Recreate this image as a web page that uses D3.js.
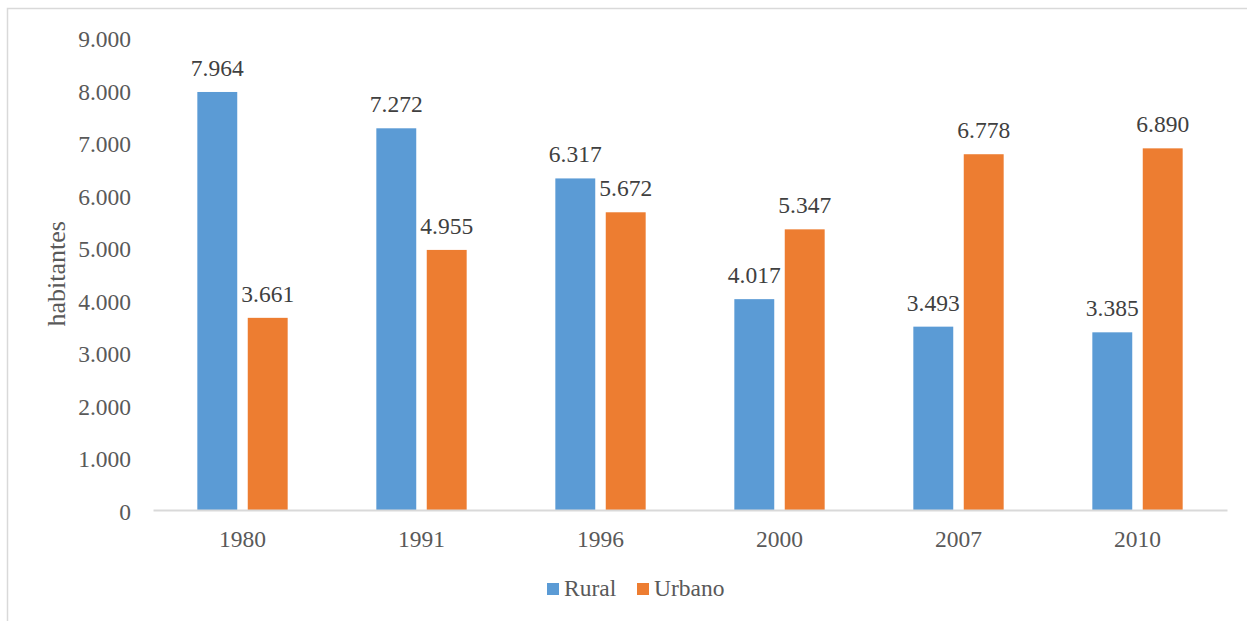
<!DOCTYPE html>
<html>
<head>
<meta charset="utf-8">
<script src="https://cdn.jsdelivr.net/npm/d3@7"></script>
<style>
  html, body { margin: 0; padding: 0; background: #fff; }
  svg { display: block; }
</style>
</head>
<body>
<svg id="chart" width="1247" height="621" style="font-family:'Liberation Serif','Times New Roman',serif"></svg>
<script>
// Population by area (habitantes)
const years = ["1980", "1991", "1996", "2000", "2007", "2010"];
const rural = [7964, 7272, 6317, 4017, 3493, 3385];
const urbano = [3661, 4955, 5672, 5347, 6778, 6890];
const seriesNames = ["Rural", "Urbano"];
const seriesColors = ["#5b9bd5", "#ed7d31"];
const yTicks = [0, 1000, 2000, 3000, 4000, 5000, 6000, 7000, 8000, 9000];

const FONT = "'Liberation Serif', 'Times New Roman', serif";
const FS = "23.5px";
const fmt = v => d3.format(",")(v).replace(/,/g, ".");

const svg = d3.select("#chart");
const W = 1247, H = 621;

// outer chart frame
svg.append("rect")
  .attr("x", 7.5).attr("y", 8.5)
  .attr("width", W + 20).attr("height", H + 20)
  .attr("fill", "none").attr("stroke", "#d9d9d9").attr("stroke-width", 1.5);

const plot = { left: 153, right: 1227, top: 37.6, bottom: 510 };

const x = d3.scaleBand().domain(years).range([plot.left, plot.right]);
const y = d3.scaleLinear().domain([0, 9000]).range([plot.bottom, plot.top]);

const barW = x.bandwidth() * 0.223;
const gap = 10.5;

const data = years.map((yr, i) => ({ year: yr, values: [rural[i], urbano[i]] }));

const groups = svg.selectAll("g.grp").data(data).join("g")
  .attr("class", "grp")
  .attr("transform", d => `translate(${x(d.year) + x.bandwidth() / 2 - (barW * 2 + gap) / 2},0)`);

groups.each(function (d) {
  const g = d3.select(this);
  d.values.forEach((v, si) => {
    const bx = si * (barW + gap);
    g.append("rect")
      .attr("x", bx).attr("y", y(v))
      .attr("width", barW).attr("height", y(0) - y(v))
      .attr("fill", seriesColors[si]);
    g.append("text")
      .attr("x", bx + barW / 2).attr("y", y(v) - 16)
      .attr("text-anchor", "middle")
      .style("font-family", FONT).style("font-size", FS)
      .attr("fill", "#404040")
      .text(fmt(v));
  });
});

// baseline / x axis
const xAxis = d3.axisBottom(x).tickSize(0).tickPadding(0);
const gx = svg.append("g").attr("transform", `translate(0,${plot.bottom})`).call(xAxis);
gx.select(".domain").attr("stroke", "#d9d9d9").attr("stroke-width", 2);
gx.selectAll("text").attr("y", 37).attr("dy", null)
  .style("font-family", FONT).style("font-size", FS).attr("fill", "#595959");

// y axis labels only
const yAxis = d3.axisLeft(y).tickValues(yTicks).tickSize(0).tickPadding(0).tickFormat(fmt);
const gy = svg.append("g").attr("transform", `translate(131,0)`).call(yAxis);
gy.select(".domain").remove();
gy.selectAll("text").attr("dy", 9)
  .style("font-family", FONT).style("font-size", FS).attr("fill", "#595959");

// y axis title
svg.append("text")
  .attr("transform", `translate(65,${(plot.top + plot.bottom) / 2}) rotate(-90)`)
  .attr("text-anchor", "middle")
  .style("font-family", FONT).style("font-size", "26px")
  .attr("fill", "#595959")
  .text("habitantes");

// legend
const legendItems = [
  { name: seriesNames[0], color: seriesColors[0], x: 547 },
  { name: seriesNames[1], color: seriesColors[1], x: 637 }
];
const lg = svg.append("g");
legendItems.forEach(it => {
  lg.append("rect").attr("x", it.x).attr("y", 583).attr("width", 12).attr("height", 12).attr("fill", it.color);
  lg.append("text").attr("x", it.x + 17).attr("y", 596)
    .style("font-family", FONT).style("font-size", FS)
    .attr("fill", "#595959").text(it.name);
});
</script>
</body>
</html>
